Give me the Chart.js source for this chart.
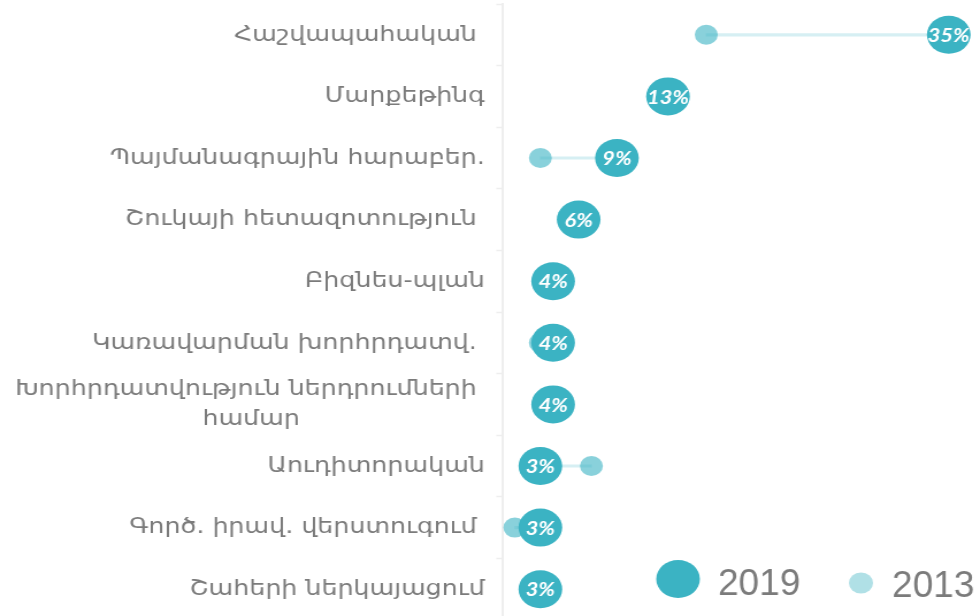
<!DOCTYPE html>
<html>
<head>
<meta charset="utf-8">
<script src="https://cdn.jsdelivr.net/npm/chart.js@4.4.1/dist/chart.umd.min.js"></script>
<style>
  html, body { margin: 0; padding: 0; background: #fff; overflow: hidden; }
</style>
</head>
<body>
<!-- the canvas is drawn narrower and stretched sideways to the full width -->
<canvas id="chart" width="852" height="620" style="display:block; width:980px; height:620px;"></canvas>
<script>
const SX = 980 / 852;

const categories = [
  'Հաշվապահական ',
  'Մարքեթինգ',
  'Պայմանագրային հարաբեր.',
  'Շուկայի հետազոտություն ',
  'Բիզնես-պլան',
  'Կառավարման խորհրդատվ. ',
  ['Խորհրդատվություն ներդրումների ', 'համար'],
  'Աուդիտորական',
  'Գործ. իրավ. վերստուգում ',
  'Շահերի ներկայացում'
];
const values2019 = [35, 13, 9, 6, 4, 4, 4, 3, 3, 3];
const values2013 = [16, 13, 3, 6, 4, 3, 4, 7, 1, 3];

const labelFont = { family: 'DejaVu Sans', size: 22, lineHeight: 1.36 };

// pad the shorter lines of a wrapped label so every line sits centred
function centerLines (lines) {
  if (!Array.isArray(lines)) return lines;
  const ctx = document.createElement('canvas').getContext('2d');
  ctx.font = labelFont.size + 'px "' + labelFont.family + '"';
  const widths = lines.map(l => ctx.measureText(l).width);
  const widest = Math.max(...widths);
  const space = ctx.measureText(' ').width;
  return lines.map((l, i) => l + ' '.repeat(Math.round((widest - widths[i]) / 2 / space)));
}

const valueLabels = {
  id: 'valueLabels',
  afterDatasetsDraw (chart) {
    const ctx = chart.ctx;
    const meta = chart.getDatasetMeta(0);
    ctx.save();
    ctx.fillStyle = '#fff';
    ctx.font = 'italic bold 19px Lato';
    ctx.textAlign = 'center';
    ctx.textBaseline = 'middle';
    meta.data.forEach((pt, i) => {
      ctx.fillText(chart.data.datasets[0].data[i] + '%', pt.x, pt.y + 1);
    });
    ctx.restore();
  }
};

const yearLegend = {
  id: 'yearLegend',
  afterDraw (chart) {
    const ctx = chart.ctx;
    const items = [
      { ds: chart.data.datasets[0], cx: 589.5, cy: 579, r: 19, color: '#3bb3c3', tx: 718, ty: 595 },
      { ds: chart.data.datasets[1], cx: 748.5, cy: 583, r: 10.5, color: '#b0e0e6', tx: 892, ty: 597 }
    ];
    ctx.save();
    items.forEach(it => {
      ctx.fillStyle = it.color;
      ctx.beginPath();
      ctx.arc(it.cx, it.cy, it.r, 0, Math.PI * 2);
      ctx.fill();
      // text is drawn unstretched
      ctx.save();
      ctx.scale(1 / SX, 1);
      ctx.fillStyle = '#7b7b7b';
      ctx.font = '37px "Liberation Sans"';
      ctx.textBaseline = 'alphabetic';
      ctx.fillText(it.ds.label, it.tx, it.ty);
      ctx.restore();
    });
    ctx.restore();
  }
};

new Chart(
  document.getElementById('chart'),
  {
    type: 'bar',
    plugins: [valueLabels, yearLegend],
    options: {
      responsive: false,
      animation: false,
      indexAxis: 'y',
      layout: { autoPadding: false, padding: { top: 4, right: 5, bottom: 0, left: 0 } },
      plugins: {
        legend: { display: false },
        tooltip: { enabled: false }
      },
      scales: {
        x: {
          display: false,
          min: 0,
          max: 37
        },
        y: {
          afterFit: (scale) => {
            scale.width = 436.5;
            scale.paddingTop = 0;
            scale.paddingBottom = 0;
          },
          border: { color: '#eeeeee', width: 2 },
          grid: {
            offset: true,
            drawOnChartArea: false,
            tickLength: 5,
            tickWidth: 1.5,
            color: '#eeeeee'
          },
          ticks: {
            autoSkip: false,
            padding: 10,
            color: '#7b7b7b',
            font: labelFont,
            callback: function (value, index) { return centerLines(categories[index]); }
          }
        }
      }
    },
    data: {
      labels: categories,
      datasets: [
        {
          type: 'line',
          label: '2019',
          data: values2019,
          showLine: false,
          pointRadius: 19,
          pointHoverRadius: 19,
          pointBackgroundColor: '#3bb3c3',
          pointBorderWidth: 0,
          clip: false
        },
        {
          type: 'line',
          label: '2013',
          data: values2013,
          showLine: false,
          pointRadius: 10,
          pointHoverRadius: 10,
          pointBackgroundColor: 'rgba(59, 179, 195, 0.6)',
          pointBorderWidth: 0,
          clip: false
        },
        {
          label: 'change',
          data: values2013.map((v, i) => [v, values2019[i]]),
          backgroundColor: '#d6eff3',
          barThickness: 2.5
        }
      ]
    }
  }
);
</script>
</body>
</html>
